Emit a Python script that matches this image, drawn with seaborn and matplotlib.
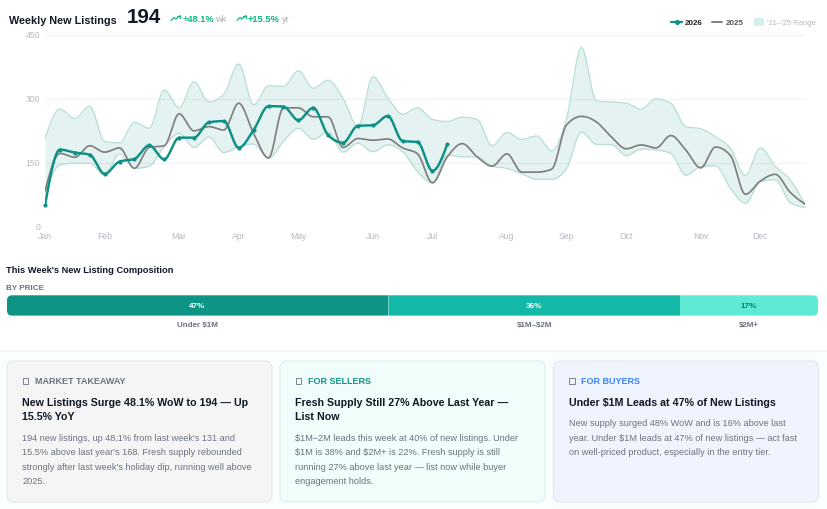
import numpy as np
import pandas as pd
import seaborn as sns
import matplotlib.pyplot as plt
from matplotlib.patches import FancyBboxPatch, Rectangle

sns.set_theme(style="white")
plt.rcParams['font.family'] = ['Liberation Sans', 'DejaVu Sans']

W, H = 828, 509

# Weekly new listings
new_2026 = [50, 181, 174, 169, 124, 153, 159, 191, 158, 209, 209, 245, 248, 185,
            227, 283, 282, 250, 279, 215, 197, 237, 238, 260, 201, 199, 131, 194]
new_2025 = [84, 172, 163, 190, 175, 185, 137, 186, 190, 265, 225, 235, 227, 290,
            219, 161, 279, 279, 258, 258, 186, 207, 203, 206, 185, 171, 103, 164,
            195, 164, 142, 171, 128, 128, 135, 239, 259, 246, 211, 183, 192, 185,
            214, 180, 138, 187, 167, 76, 107, 123, 81, 53]
range_high = [207, 276, 254, 283, 200, 197, 245, 231, 321, 279, 340, 293, 311, 382,
              286, 331, 329, 366, 325, 344, 301, 235, 352, 303, 264, 279, 252, 247,
              257, 252, 190, 221, 205, 213, 178, 254, 421, 295, 293, 290, 276, 300,
              290, 235, 230, 211, 184, 120, 185, 142, 110, 53]
range_low = [78, 145, 149, 149, 121, 171, 137, 142, 189, 219, 186, 210, 174, 188,
             194, 161, 200, 231, 205, 223, 175, 196, 176, 192, 176, 129, 103, 168,
             164, 164, 142, 137, 124, 111, 111, 137, 222, 193, 193, 167, 182, 180,
             172, 121, 141, 143, 90, 55, 106, 110, 57, 45]

month_labels = ['Jan', 'Feb', 'Mar', 'Apr', 'May', 'Jun', 'Jul', 'Aug', 'Sep', 'Oct', 'Nov', 'Dec']
month_weeks = [0, 4, 9, 13, 17, 22, 26, 31, 35, 39, 44, 48]
y_ticks = [0, 150, 300, 450]

# Composition bar
price_labels = ['Under $1M', '$1M–$2M', '$2M+']
price_shares = [47, 36, 17]
price_colors = ['#0d9485', '#14b8a6', '#5eead4']
price_text = ['white', 'white', '#0f766e']

TEAL = '#0d9085'
GREY = '#808080'
INK = '#111827'
BODY = '#6b7280'
GREEN = '#10b981'
AXIS = '#b4b8be'


def smooth(values, steps=12):
    # monotone cubic through the read values, no overshoot between weeks
    y = np.asarray(values, dtype=float)
    s = np.diff(y)
    grad = np.zeros_like(y)
    mid = (s[:-1] + s[1:]) / 2
    grad[1:-1] = (np.sign(s[:-1]) + np.sign(s[1:])) * np.minimum.reduce([np.abs(s[:-1]), np.abs(s[1:]), 0.5*np.abs(mid)])
    grad[0] = (3*s[0] - grad[1]) / 2
    grad[-1] = (3*s[-1] - grad[-2]) / 2
    xs, ys = [], []
    for i in range(len(y) - 1):
        t = np.linspace(0, 1, steps, endpoint=False)
        a = 2*t**3 - 3*t**2 + 1
        b = t**3 - 2*t**2 + t
        c = -2*t**3 + 3*t**2
        d = t**3 - t**2
        xs.append(i + t)
        ys.append(a*y[i] + b*grad[i] + c*y[i+1] + d*grad[i+1])
    xs.append([len(y) - 1])
    ys.append([y[-1]])
    return np.concatenate(xs), np.concatenate(ys)


def px_axes(left, top, right, bottom, **kw):
    return fig.add_axes([left/W, 1 - bottom/H, (right-left)/W, (bottom-top)/H], **kw)


fig = plt.figure(figsize=(W/100, H/100), dpi=100, facecolor='white')

# page layer, in pixel coordinates
page = px_axes(0, 0, W, H)
page.set_xlim(0, W)
page.set_ylim(H, 0)
page.axis('off')


def label(x, y, s, size, color=INK, weight='normal', ha='left', **kw):
    page.text(x, y, s, fontsize=size*0.72, color=color, fontweight=weight, ha=ha, va='baseline',
              parse_math=False, **kw)


def trend_icon(x, y):
    page.plot([x, x+3, x+5, x+9], [y, y-3, y-1.5, y-5], color=GREEN, lw=0.9, solid_capstyle='round')
    page.plot([x+6.5, x+9, x+9], [y-5, y-5, y-2.5], color=GREEN, lw=0.9)


# header
label(9.5, 23.5, 'Weekly New Listings', 10.9, weight='bold')
label(127, 23, '194', 20.5, weight='bold', color='#111827')
trend_icon(171, 20.5)
label(182.5, 21.5, '+48.1%', 9.3, color=GREEN, weight='bold')
label(215.5, 21.5, 'wk', 9.3, color='#a9adb3')
trend_icon(237, 20.5)
label(248, 21.5, '+15.5%', 9.3, color=GREEN, weight='bold')
label(281.5, 21.5, 'yr', 9.3, color='#a9adb3')

# legend
page.plot([671.5, 682], [22, 22], color=TEAL, lw=1.6)
page.plot([676.7], [22], 'o', color=TEAL, ms=2.6)
label(685, 25, '2026', 8, weight='bold', color='#222222')
page.plot([712, 722.5], [22, 22], color=GREY, lw=1.4)
label(726, 25, '2025', 8, weight='bold', color='#555555')
page.add_patch(Rectangle((754, 18), 10, 8, fc='#d5eeea', ec='none'))
label(767, 25, "'21–'25 Range", 7.6, color='#b5b9be')

# composition section
label(6.5, 273, "This Week's New Listing Composition", 9.3, weight='bold')
label(6.5, 290, 'BY PRICE', 8.1, weight='bold', color='#6b7280')

bar = px_axes(7, 295.3, 818, 315.6)
bar.set_xlim(0, sum(price_shares))
bar.set_ylim(0, 1)
bar.axis('off')
clip = FancyBboxPatch((7, 295.3), 811, 20.3, boxstyle='round,pad=0,rounding_size=5', fc='none', ec='none')
page.add_patch(clip)
left = 0
for share, color, txt, name in zip(price_shares, price_colors, price_text, price_labels):
    rect = bar.barh(0.5, share, left=left, height=1, color=color, edgecolor='none')[0]
    rect.set_clip_path(clip)
    bar.text(left + share/2, 0.5, f'{share}%', ha='center', va='center_baseline',
             color=txt, fontsize=5.9, fontweight='bold')
    label(7 + (left + share/2)*8.11, 327.5, name, 8, weight='bold', color='#6b7280', ha='center')
    left += share
bar.axvline(47, color='white', lw=0.5, alpha=0.6)

# lower band
page.add_patch(Rectangle((0, 351), W, H-351, fc='#fbfefe', ec='none', zorder=0))
page.plot([0, W], [350.5, 350.5], color='#eff1f2', lw=1.2, zorder=1)

cards = [
    (7, '#f5f5f5', '#e6e7e8', 'MARKET TAKEAWAY', '#6b7280',
     ['New Listings Surge 48.1% WoW to 194 — Up', '15.5% YoY'],
     ["194 new listings, up 48.1% from last week's 131 and",
      "15.5% above last year's 168. Fresh supply rebounded",
      "strongly after last week's holiday dip, running well above",
      '2025.']),
    (280, '#f0fdfa', '#dcefeb', 'FOR SELLERS', '#0d9488',
     ['Fresh Supply Still 27% Above Last Year —', 'List Now'],
     ['$1M–2M leads this week at 40% of new listings. Under',
      '$1M is 38% and $2M+ is 22%. Fresh supply is still',
      'running 27% above last year — list now while buyer',
      'engagement holds.']),
    (553.5, '#f0f4ff', '#e2e6f1', 'FOR BUYERS', '#3b82f6',
     ['Under $1M Leads at 47% of New Listings'],
     ['New supply surged 48% WoW and is 16% above last',
      'year. Under $1M leads at 47% of new listings — act fast',
      'on well-priced product, especially in the entry tier.']),
]
for x, fc, ec, tag, tag_color, heads, lines in cards:
    page.add_patch(FancyBboxPatch((x, 361), 265, 141, boxstyle='round,pad=0,rounding_size=7',
                                  fc=fc, ec=ec, lw=0.8, zorder=2))
    page.add_patch(Rectangle((x+16, 377.5), 5.5, 6.5, fc='none', ec='#6b7280', lw=0.6, zorder=3))
    label(x+28, 384, tag, 9, weight='bold', color=tag_color, zorder=3)
    y = 406
    for head in heads:
        label(x+15.5, y, head, 10.6, weight='bold', zorder=3)
        y += 14.5
    y += 5.7
    for line in lines:
        label(x+15.5, y, line, 9.1, color=BODY, zorder=3)
        y += 14.5

# main chart
ax = px_axes(45, 35, 805, 226.7)
ax.patch.set_alpha(0)
ax.set_xlim(0, 51)
ax.set_ylim(0, 450)

x_high, y_high = smooth(range_high)
x_low, y_low = smooth(range_low)
ax.fill_between(x_high, y_low, y_high, color='#0d9488', alpha=0.11, lw=0)

for tick in y_ticks:
    ax.axhline(tick, color='#f1f2f3' if tick else '#e9ebec', lw=0.8, zorder=0)

band = pd.DataFrame({'week': np.r_[x_high, x_low],
                     'listings': np.r_[y_high, y_low],
                     'edge': ['high']*len(x_high) + ['low']*len(x_low)})
sns.lineplot(data=band, x='week', y='listings', hue='edge', palette=['#b7ddd7', '#b7ddd7'],
             lw=0.9, estimator=None, legend=False, ax=ax)

x_25, y_25 = smooth(new_2025)
sns.lineplot(x=x_25, y=y_25, color=GREY, lw=1.25, estimator=None, ax=ax)

x_26, y_26 = smooth(new_2026)
sns.lineplot(x=x_26, y=y_26, color=TEAL, lw=1.75, estimator=None, ax=ax)
sns.scatterplot(x=range(len(new_2026)), y=new_2026, color=TEAL, s=9, linewidth=0, zorder=5, ax=ax, clip_on=False)

sns.despine(ax=ax, left=True, bottom=True)
ax.set_xlabel('')
ax.set_ylabel('')
ax.set_xticks(month_weeks, month_labels)
ax.set_yticks(y_ticks, [str(t) for t in y_ticks])
ax.tick_params(axis='both', length=0, labelsize=6.2, labelcolor=AXIS, pad=3.5)

fig.savefig('out.png', dpi=100, facecolor='white')
